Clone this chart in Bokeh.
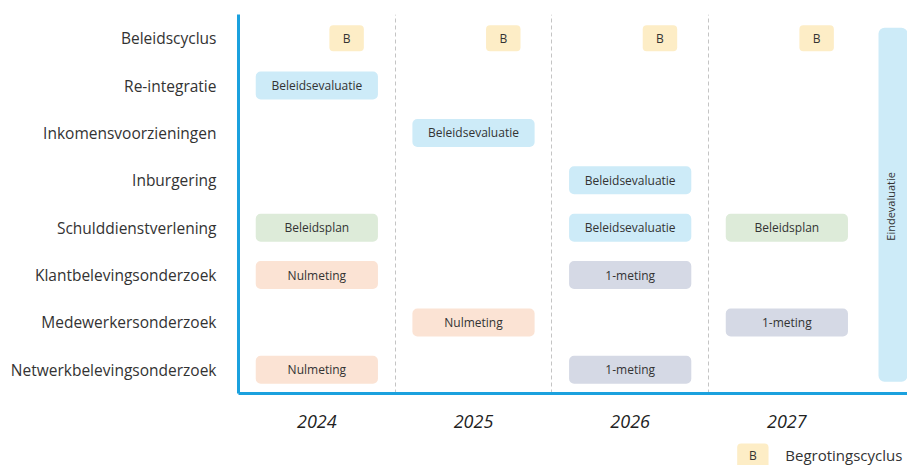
import math
from bokeh.plotting import figure
from bokeh.layouts import column
from bokeh.models import Range1d, FactorRange, FixedTicker, ColumnDataSource
from bokeh.transform import factor_cmap, dodge
from bokeh.core.properties import value
from bokeh.embed import file_html
from bokeh.resources import INLINE

# ---------------- data ----------------
rows = ["Beleidscyclus", "Re-integratie", "Inkomensvoorzieningen", "Inburgering",
        "Schulddienstverlening", "Klantbelevingsonderzoek", "Medewerkersonderzoek",
        "Netwerkbelevingsonderzoek"]
years = [2024, 2025, 2026, 2027]
year_labels = ["2024", "2025", "2026", "2027"]

cycle_row = "Beleidscyclus"
cycle_years = [2024, 2025, 2026, 2027]
cycle_mark = "B"

item_rows = ["Re-integratie", "Inkomensvoorzieningen", "Inburgering",
             "Schulddienstverlening", "Schulddienstverlening", "Schulddienstverlening",
             "Klantbelevingsonderzoek", "Klantbelevingsonderzoek",
             "Medewerkersonderzoek", "Medewerkersonderzoek",
             "Netwerkbelevingsonderzoek", "Netwerkbelevingsonderzoek"]
item_years = [2024, 2025, 2026, 2024, 2026, 2027, 2024, 2026, 2025, 2027, 2024, 2026]
item_labels = ["Beleidsevaluatie", "Beleidsevaluatie", "Beleidsevaluatie",
               "Beleidsplan", "Beleidsevaluatie", "Beleidsplan",
               "Nulmeting", "1-meting", "Nulmeting", "1-meting",
               "Nulmeting", "1-meting"]

final_label = "Eindevaluatie"
legend_mark = "B"
legend_label = "Begrotingscyclus"

# ---------------- style ----------------
kinds = ["Beleidsevaluatie", "Beleidsplan", "Nulmeting", "1-meting"]
kind_colors = ["#CDEBF8", "#DDEBD9", "#FBE3D4", "#D5D9E5"]
cycle_color = "#FDEDC6"
final_color = "#CDEBF8"
axis_blue = "#1BA1DE"
txt = "#333333"
font = "Open Sans"

xr = Range1d(years[0] - 0.5, years[-1] + 0.77)

p = figure(width=907, height=440, x_range=xr,
           y_range=FactorRange(factors=rows[::-1]),
           output_backend="svg", toolbar_location=None,
           min_border_left=238, min_border_right=0,
           min_border_top=14, min_border_bottom=47)
p.outline_line_color = None
p.background_fill_color = "white"
p.border_fill_color = "white"

# grid: dashed separators between years
p.ygrid.visible = False
p.xgrid.ticker = FixedTicker(ticks=[y + 0.5 for y in years[:-1]])
p.xgrid.grid_line_color = "#C4C4C4"
p.xgrid.grid_line_dash = "4 3"
p.xgrid.grid_line_width = 1

# axes
p.yaxis.axis_line_color = axis_blue
p.yaxis.axis_line_width = 3
p.yaxis.major_tick_line_color = None
p.yaxis.major_label_standoff = 16
p.yaxis.major_label_text_font = font
p.yaxis.major_label_text_font_size = "15.5px"
p.yaxis.major_label_text_color = txt

p.xaxis.ticker = FixedTicker(ticks=years)
p.xaxis.major_label_overrides = {y: lab for y, lab in zip(years, year_labels)}
p.xaxis.axis_line_color = axis_blue
p.xaxis.axis_line_width = 3
p.xaxis.major_tick_line_color = None
p.xaxis.minor_tick_line_color = None
p.xaxis.major_label_standoff = 15
p.xaxis.major_label_text_font = font
p.xaxis.major_label_text_font_size = "18px"
p.xaxis.major_label_text_font_style = "italic"
p.xaxis.major_label_text_color = "#222222"

# activity boxes
src = ColumnDataSource(dict(row=item_rows, year=item_years, label=item_labels))
p.hbar(y="row", left=dodge("year", -0.39), right=dodge("year", 0.39), height=0.59,
       source=src, fill_color=factor_cmap("label", kind_colors, kinds),
       line_color=None, border_radius=5)
p.text(x="year", y="row", text="label", source=src, text_align="center",
       text_baseline="middle", text_font=value(font), text_font_size="12px",
       text_color=txt)

# budget cycle boxes
csrc = ColumnDataSource(dict(row=[cycle_row] * len(cycle_years), year=cycle_years,
                             mark=[cycle_mark] * len(cycle_years)))
p.hbar(y="row", left=dodge("year", 0.19 - 0.11), right=dodge("year", 0.19 + 0.11),
       height=0.55, source=csrc, fill_color=cycle_color, line_color=None,
       border_radius=4)
p.text(x=dodge("year", 0.19), y="row", text="mark", source=csrc, text_align="center",
       text_baseline="middle", text_font=value(font), text_font_size="12px",
       text_color=txt)

# final evaluation bar
fl, fr = years[-1] + 0.585, years[-1] + 0.77
p.quad(left=[fl], right=[fr], bottom=[0.25], top=[len(rows) - 0.28],
       fill_color=final_color, line_color=None, border_radius=6)
p.text(x=[(fl + fr) / 2 - 0.015], y=[len(rows) / 2 - 0.05], text=[final_label],
       angle=math.pi / 2, text_align="center", text_baseline="middle",
       text_font=value(font), text_font_size="11px", text_color=txt)

# legend strip below the chart, sharing the x scale
leg = figure(width=907, height=25, x_range=xr, y_range=Range1d(0, 1),
             output_backend="svg", toolbar_location=None,
             x_axis_location=None, y_axis_location=None,
             min_border_left=238, min_border_right=0,
             min_border_top=0, min_border_bottom=0)
leg.outline_line_color = None
leg.xgrid.visible = False
leg.ygrid.visible = False
lx = years[-1] - 0.217
leg.quad(left=[lx - 0.1], right=[lx + 0.1], bottom=[-0.5], top=[0.88],
         fill_color=cycle_color, line_color=None, border_radius=4)
leg.text(x=[lx], y=[0.4], text=[legend_mark], text_align="center",
         text_baseline="middle", text_font=value(font), text_font_size="12px",
         text_color=txt)
leg.text(x=[years[-1] - 0.01], y=[0.42], text=[legend_label], text_align="left",
         text_baseline="middle", text_font=value(font), text_font_size="15px",
         text_color=txt)

layout = column(p, leg, spacing=0)
open("out.html", "w").write(file_html(layout, INLINE))
